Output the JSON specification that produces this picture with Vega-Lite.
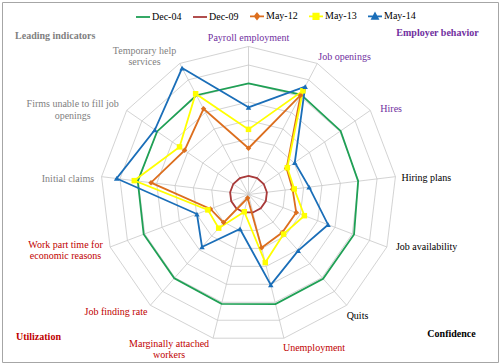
{
  "$schema": "https://vega.github.io/schema/vega-lite/v6.json",
  "width": 496,
  "height": 360,
  "padding": 2,
  "autosize": {"type": "none"},
  "background": "white",
  "config": {"view": {"stroke": "#A6A6A6", "strokeWidth": 1}, "text": {"font": "Liberation Serif"}},
  "datasets": {
    "axes": [
      {"i": 0, "indicator": "Payroll employment", "label": "Payroll employment", "group": "Employer behavior", "levels": [1, 2, 3, 4, 5, 6, 7, 8]},
      {"i": 1, "indicator": "Job openings", "label": "Job openings", "group": "Employer behavior", "levels": [1, 2, 3, 4, 5, 6, 7, 8]},
      {"i": 2, "indicator": "Hires", "label": "Hires", "group": "Employer behavior", "levels": [1, 2, 3, 4, 5, 6, 7, 8]},
      {"i": 3, "indicator": "Hiring plans", "label": "Hiring plans", "group": "Confidence", "levels": [1, 2, 3, 4, 5, 6, 7, 8]},
      {"i": 4, "indicator": "Job availability", "label": "Job availability", "group": "Confidence", "levels": [1, 2, 3, 4, 5, 6, 7, 8]},
      {"i": 5, "indicator": "Quits", "label": "Quits", "group": "Confidence", "levels": [1, 2, 3, 4, 5, 6, 7, 8]},
      {"i": 6, "indicator": "Unemployment", "label": "Unemployment", "group": "Utilization", "levels": [1, 2, 3, 4, 5, 6, 7, 8]},
      {"i": 7, "indicator": "Marginally attached workers", "label": "Marginally attached\nworkers", "group": "Utilization", "levels": [1, 2, 3, 4, 5, 6, 7, 8]},
      {"i": 8, "indicator": "Job finding rate", "label": "Job finding rate", "group": "Utilization", "levels": [1, 2, 3, 4, 5, 6, 7, 8]},
      {"i": 9, "indicator": "Work part time for economic reasons", "label": "Work part time for\neconomic reasons", "group": "Utilization", "levels": [1, 2, 3, 4, 5, 6, 7, 8]},
      {"i": 10, "indicator": "Initial claims", "label": "Initial claims", "group": "Leading indicators", "levels": [1, 2, 3, 4, 5, 6, 7, 8]},
      {"i": 11, "indicator": "Firms unable to fill job openings", "label": "Firms unable to fill job\nopenings", "group": "Leading indicators", "levels": [1, 2, 3, 4, 5, 6, 7, 8]},
      {"i": 12, "indicator": "Temporary help services", "label": "Temporary help\nservices", "group": "Leading indicators", "levels": [1, 2, 3, 4, 5, 6, 7, 8]}
    ],
    "values": [
      {"series": "Dec-04", "indicator": "Payroll employment", "value": 6.0},
      {"series": "Dec-04", "indicator": "Job openings", "value": 6.1},
      {"series": "Dec-04", "indicator": "Hires", "value": 6.05},
      {"series": "Dec-04", "indicator": "Hiring plans", "value": 5.97},
      {"series": "Dec-04", "indicator": "Job availability", "value": 6.1},
      {"series": "Dec-04", "indicator": "Quits", "value": 6.08},
      {"series": "Dec-04", "indicator": "Unemployment", "value": 6.1},
      {"series": "Dec-04", "indicator": "Marginally attached workers", "value": 6.09},
      {"series": "Dec-04", "indicator": "Job finding rate", "value": 6.05},
      {"series": "Dec-04", "indicator": "Work part time for economic reasons", "value": 6.06},
      {"series": "Dec-04", "indicator": "Initial claims", "value": 6.03},
      {"series": "Dec-04", "indicator": "Firms unable to fill job openings", "value": 6.0},
      {"series": "Dec-04", "indicator": "Temporary help services", "value": 6.06},
      {"series": "Dec-09", "indicator": "Payroll employment", "value": 1},
      {"series": "Dec-09", "indicator": "Job openings", "value": 1},
      {"series": "Dec-09", "indicator": "Hires", "value": 1},
      {"series": "Dec-09", "indicator": "Hiring plans", "value": 1},
      {"series": "Dec-09", "indicator": "Job availability", "value": 1},
      {"series": "Dec-09", "indicator": "Quits", "value": 1},
      {"series": "Dec-09", "indicator": "Unemployment", "value": 1},
      {"series": "Dec-09", "indicator": "Marginally attached workers", "value": 1},
      {"series": "Dec-09", "indicator": "Job finding rate", "value": 1},
      {"series": "Dec-09", "indicator": "Work part time for economic reasons", "value": 1},
      {"series": "Dec-09", "indicator": "Initial claims", "value": 1},
      {"series": "Dec-09", "indicator": "Firms unable to fill job openings", "value": 1},
      {"series": "Dec-09", "indicator": "Temporary help services", "value": 1},
      {"series": "May-12", "indicator": "Payroll employment", "value": 2.5},
      {"series": "May-12", "indicator": "Job openings", "value": 6.06},
      {"series": "May-12", "indicator": "Hires", "value": 2.5},
      {"series": "May-12", "indicator": "Hiring plans", "value": 2.4},
      {"series": "May-12", "indicator": "Job availability", "value": 2.76},
      {"series": "May-12", "indicator": "Quits", "value": 2.75},
      {"series": "May-12", "indicator": "Unemployment", "value": 2.96},
      {"series": "May-12", "indicator": "Marginally attached workers", "value": 0.2},
      {"series": "May-12", "indicator": "Job finding rate", "value": 2.03},
      {"series": "May-12", "indicator": "Work part time for economic reasons", "value": 2.2},
      {"series": "May-12", "indicator": "Initial claims", "value": 5.31},
      {"series": "May-12", "indicator": "Firms unable to fill job openings", "value": 4.2},
      {"series": "May-12", "indicator": "Temporary help services", "value": 5.23},
      {"series": "May-13", "indicator": "Payroll employment", "value": 3.52},
      {"series": "May-13", "indicator": "Job openings", "value": 6.33},
      {"series": "May-13", "indicator": "Hires", "value": 2.55},
      {"series": "May-13", "indicator": "Hiring plans", "value": 2.49},
      {"series": "May-13", "indicator": "Job availability", "value": 3.23},
      {"series": "May-13", "indicator": "Quits", "value": 2.86},
      {"series": "May-13", "indicator": "Unemployment", "value": 3.79},
      {"series": "May-13", "indicator": "Marginally attached workers", "value": 0.96},
      {"series": "May-13", "indicator": "Job finding rate", "value": 2.43},
      {"series": "May-13", "indicator": "Work part time for economic reasons", "value": 2.35},
      {"series": "May-13", "indicator": "Initial claims", "value": 6.22},
      {"series": "May-13", "indicator": "Firms unable to fill job openings", "value": 4.53},
      {"series": "May-13", "indicator": "Temporary help services", "value": 6.15},
      {"series": "May-14", "indicator": "Payroll employment", "value": 4.71},
      {"series": "May-14", "indicator": "Job openings", "value": 6.59},
      {"series": "May-14", "indicator": "Hires", "value": 3.04},
      {"series": "May-14", "indicator": "Hiring plans", "value": 3.3},
      {"series": "May-14", "indicator": "Job availability", "value": 4.6},
      {"series": "May-14", "indicator": "Quits", "value": 4.05},
      {"series": "May-14", "indicator": "Unemployment", "value": 5.03},
      {"series": "May-14", "indicator": "Marginally attached workers", "value": 1.92},
      {"series": "May-14", "indicator": "Job finding rate", "value": 3.79},
      {"series": "May-14", "indicator": "Work part time for economic reasons", "value": 2.98},
      {"series": "May-14", "indicator": "Initial claims", "value": 7.18},
      {"series": "May-14", "indicator": "Firms unable to fill job openings", "value": 6.15},
      {"series": "May-14", "indicator": "Temporary help services", "value": 7.72}
    ],
    "groups": [
      {"group": "Leading indicators"},
      {"group": "Employer behavior"},
      {"group": "Utilization"},
      {"group": "Confidence"}
    ]
  },
  "layer": [
    {
      "data": {"name": "axes"},
      "transform": [
        {"flatten": ["levels"], "as": ["ring"]},
        {"calculate": "datum.i*2*PI/13", "as": "theta"},
        {"calculate": "datum.ring*sin(datum.theta)", "as": "px"},
        {"calculate": "datum.ring*cos(datum.theta)", "as": "py"}
      ],
      "mark": {"type": "line", "interpolate": "linear-closed", "stroke": "#C8C8C8", "strokeWidth": 0.8},
      "encoding": {
        "x": {"field": "px", "type": "quantitative", "scale": {"domain": [-13.324, 13.486], "nice": false, "zero": false}, "axis": null},
        "y": {"field": "py", "type": "quantitative", "scale": {"domain": [-9.054, 10.405], "nice": false, "zero": false}, "axis": null},
        "detail": {"field": "ring", "type": "ordinal"},
        "order": {"field": "i", "type": "quantitative"}
      }
    },
    {
      "data": {"name": "axes"},
      "transform": [
        {"calculate": "datum.i*2*PI/13", "as": "theta"},
        {"calculate": "peek(datum.levels)*sin(datum.theta)", "as": "px"},
        {"calculate": "peek(datum.levels)*cos(datum.theta)", "as": "py"}
      ],
      "mark": {"type": "rule", "stroke": "#C8C8C8", "strokeWidth": 0.8},
      "encoding": {
        "x": {"field": "px", "type": "quantitative", "scale": {"domain": [-13.324, 13.486], "nice": false, "zero": false}, "axis": null},
        "y": {"field": "py", "type": "quantitative", "scale": {"domain": [-9.054, 10.405], "nice": false, "zero": false}, "axis": null},
        "x2": {"datum": 0},
        "y2": {"datum": 0}
      }
    },
    {
      "data": {"name": "values"},
      "transform": [
        {"lookup": "indicator", "from": {"data": {"name": "axes"}, "key": "indicator", "fields": ["i"]}},
        {"calculate": "datum.i*2*PI/13", "as": "theta"},
        {"calculate": "datum.value*sin(datum.theta)", "as": "px"},
        {"calculate": "datum.value*cos(datum.theta)", "as": "py"}
      ],
      "mark": {"type": "line", "interpolate": "linear-closed", "strokeWidth": 1.8},
      "encoding": {
        "x": {"field": "px", "type": "quantitative", "scale": {"domain": [-13.324, 13.486], "nice": false, "zero": false}, "axis": null},
        "y": {"field": "py", "type": "quantitative", "scale": {"domain": [-9.054, 10.405], "nice": false, "zero": false}, "axis": null},
        "order": {"field": "i", "type": "quantitative"},
        "color": {
          "field": "series",
          "type": "nominal",
          "scale": {"domain": ["Dec-04", "Dec-09", "May-12", "May-13", "May-14"], "range": ["#1FA055", "#A93A3A", "#DC6E1E", "#FFFF00", "#1A6EB8"]},
          "legend": {
            "orient": "none",
            "legendX": 133,
            "legendY": 6,
            "direction": "horizontal",
            "columns": 5,
            "title": null,
            "padding": 0,
            "symbolSize": 196,
            "symbolStrokeWidth": 1.8,
            "labelFont": "Liberation Serif",
            "labelFontSize": 10,
            "labelColor": "#000000",
            "labelOffset": 1,
            "columnPadding": 7,
            "encode": {
              "symbols": {
                "update": {
                  "shape": {"signal": "datum.value == 'May-12' ? 'M-1,0L1,0M0,-0.4L0.32,0L0,0.4L-0.32,0Z' : datum.value == 'May-13' ? 'M-1,0L1,0M-0.38,-0.38L0.38,-0.38L0.38,0.38L-0.38,0.38Z' : datum.value == 'May-14' ? 'M-1,0L1,0M-0.42,0.36L0,-0.42L0.42,0.36Z' : 'M-1,0L1,0'"},
                  "fill": {"signal": "scale('color', datum.value)"},
                  "stroke": {"signal": "scale('color', datum.value)"},
                  "opacity": {"value": 1}
                }
              }
            }
          }
        }
      }
    },
    {
      "data": {"name": "values"},
      "transform": [
        {"filter": "datum.series == 'May-12' || datum.series == 'May-13' || datum.series == 'May-14'"},
        {"lookup": "indicator", "from": {"data": {"name": "axes"}, "key": "indicator", "fields": ["i"]}},
        {"calculate": "datum.i*2*PI/13", "as": "theta"},
        {"calculate": "datum.value*sin(datum.theta)", "as": "px"},
        {"calculate": "datum.value*cos(datum.theta)", "as": "py"}
      ],
      "mark": {"type": "point", "filled": true, "opacity": 1, "size": 30},
      "encoding": {
        "x": {"field": "px", "type": "quantitative", "scale": {"domain": [-13.324, 13.486], "nice": false, "zero": false}, "axis": null},
        "y": {"field": "py", "type": "quantitative", "scale": {"domain": [-9.054, 10.405], "nice": false, "zero": false}, "axis": null},
        "color": {"field": "series", "type": "nominal", "scale": {"domain": ["Dec-04", "Dec-09", "May-12", "May-13", "May-14"], "range": ["#1FA055", "#A93A3A", "#DC6E1E", "#FFFF00", "#1A6EB8"]}},
        "shape": {"field": "series", "type": "nominal", "scale": {"domain": ["May-12", "May-13", "May-14"], "range": ["diamond", "square", "triangle-up"]}, "legend": null}
      }
    },
    {"data": {"name": "axes"}, "transform": [{"filter": "datum.i == 0"}, {"calculate": "datum.i*2*PI/13", "as": "theta"}, {"calculate": "peek(datum.levels)*sin(datum.theta)", "as": "px"}, {"calculate": "peek(datum.levels)*cos(datum.theta)", "as": "py"}],
     "mark": {"type": "text", "align": "center", "baseline": "middle", "dx": 0, "dy": -8.5, "fontSize": 10, "font": "Liberation Serif", "lineBreak": "\n", "lineHeight": 11.5},
     "encoding": {"x": {"field": "px", "type": "quantitative", "scale": {"domain": [-13.324, 13.486], "nice": false, "zero": false}, "axis": null}, "y": {"field": "py", "type": "quantitative", "scale": {"domain": [-9.054, 10.405], "nice": false, "zero": false}, "axis": null}, "text": {"field": "label", "type": "nominal"}, "fill": {"field": "group", "type": "nominal", "scale": {"domain": ["Employer behavior", "Confidence", "Utilization", "Leading indicators"], "range": ["#7030A0", "#000000", "#C00000", "#7F7F7F"]}, "legend": null}}},
    {"data": {"name": "axes"}, "transform": [{"filter": "datum.i == 1"}, {"calculate": "datum.i*2*PI/13", "as": "theta"}, {"calculate": "peek(datum.levels)*sin(datum.theta)", "as": "px"}, {"calculate": "peek(datum.levels)*cos(datum.theta)", "as": "py"}],
     "mark": {"type": "text", "align": "left", "baseline": "middle", "dx": 1, "dy": -6.5, "fontSize": 10, "font": "Liberation Serif", "lineBreak": "\n", "lineHeight": 11.5},
     "encoding": {"x": {"field": "px", "type": "quantitative", "scale": {"domain": [-13.324, 13.486], "nice": false, "zero": false}, "axis": null}, "y": {"field": "py", "type": "quantitative", "scale": {"domain": [-9.054, 10.405], "nice": false, "zero": false}, "axis": null}, "text": {"field": "label", "type": "nominal"}, "fill": {"field": "group", "type": "nominal", "scale": {"domain": ["Employer behavior", "Confidence", "Utilization", "Leading indicators"], "range": ["#7030A0", "#000000", "#C00000", "#7F7F7F"]}, "legend": null}}},
    {"data": {"name": "axes"}, "transform": [{"filter": "datum.i == 2"}, {"calculate": "datum.i*2*PI/13", "as": "theta"}, {"calculate": "peek(datum.levels)*sin(datum.theta)", "as": "px"}, {"calculate": "peek(datum.levels)*cos(datum.theta)", "as": "py"}],
     "mark": {"type": "text", "align": "left", "baseline": "middle", "dx": 10, "dy": -1.5, "fontSize": 10, "font": "Liberation Serif", "lineBreak": "\n", "lineHeight": 11.5},
     "encoding": {"x": {"field": "px", "type": "quantitative", "scale": {"domain": [-13.324, 13.486], "nice": false, "zero": false}, "axis": null}, "y": {"field": "py", "type": "quantitative", "scale": {"domain": [-9.054, 10.405], "nice": false, "zero": false}, "axis": null}, "text": {"field": "label", "type": "nominal"}, "fill": {"field": "group", "type": "nominal", "scale": {"domain": ["Employer behavior", "Confidence", "Utilization", "Leading indicators"], "range": ["#7030A0", "#000000", "#C00000", "#7F7F7F"]}, "legend": null}}},
    {"data": {"name": "axes"}, "transform": [{"filter": "datum.i == 3"}, {"calculate": "datum.i*2*PI/13", "as": "theta"}, {"calculate": "peek(datum.levels)*sin(datum.theta)", "as": "px"}, {"calculate": "peek(datum.levels)*cos(datum.theta)", "as": "py"}],
     "mark": {"type": "text", "align": "left", "baseline": "middle", "dx": 6, "dy": 1.5, "fontSize": 10, "font": "Liberation Serif", "lineBreak": "\n", "lineHeight": 11.5},
     "encoding": {"x": {"field": "px", "type": "quantitative", "scale": {"domain": [-13.324, 13.486], "nice": false, "zero": false}, "axis": null}, "y": {"field": "py", "type": "quantitative", "scale": {"domain": [-9.054, 10.405], "nice": false, "zero": false}, "axis": null}, "text": {"field": "label", "type": "nominal"}, "fill": {"field": "group", "type": "nominal", "scale": {"domain": ["Employer behavior", "Confidence", "Utilization", "Leading indicators"], "range": ["#7030A0", "#000000", "#C00000", "#7F7F7F"]}, "legend": null}}},
    {"data": {"name": "axes"}, "transform": [{"filter": "datum.i == 4"}, {"calculate": "datum.i*2*PI/13", "as": "theta"}, {"calculate": "peek(datum.levels)*sin(datum.theta)", "as": "px"}, {"calculate": "peek(datum.levels)*cos(datum.theta)", "as": "py"}],
     "mark": {"type": "text", "align": "left", "baseline": "middle", "dx": 9, "dy": 0, "fontSize": 10, "font": "Liberation Serif", "lineBreak": "\n", "lineHeight": 11.5},
     "encoding": {"x": {"field": "px", "type": "quantitative", "scale": {"domain": [-13.324, 13.486], "nice": false, "zero": false}, "axis": null}, "y": {"field": "py", "type": "quantitative", "scale": {"domain": [-9.054, 10.405], "nice": false, "zero": false}, "axis": null}, "text": {"field": "label", "type": "nominal"}, "fill": {"field": "group", "type": "nominal", "scale": {"domain": ["Employer behavior", "Confidence", "Utilization", "Leading indicators"], "range": ["#7030A0", "#000000", "#C00000", "#7F7F7F"]}, "legend": null}}},
    {"data": {"name": "axes"}, "transform": [{"filter": "datum.i == 5"}, {"calculate": "datum.i*2*PI/13", "as": "theta"}, {"calculate": "peek(datum.levels)*sin(datum.theta)", "as": "px"}, {"calculate": "peek(datum.levels)*cos(datum.theta)", "as": "py"}],
     "mark": {"type": "text", "align": "left", "baseline": "middle", "dx": 0, "dy": 10.5, "fontSize": 10, "font": "Liberation Serif", "lineBreak": "\n", "lineHeight": 11.5},
     "encoding": {"x": {"field": "px", "type": "quantitative", "scale": {"domain": [-13.324, 13.486], "nice": false, "zero": false}, "axis": null}, "y": {"field": "py", "type": "quantitative", "scale": {"domain": [-9.054, 10.405], "nice": false, "zero": false}, "axis": null}, "text": {"field": "label", "type": "nominal"}, "fill": {"field": "group", "type": "nominal", "scale": {"domain": ["Employer behavior", "Confidence", "Utilization", "Leading indicators"], "range": ["#7030A0", "#000000", "#C00000", "#7F7F7F"]}, "legend": null}}},
    {"data": {"name": "axes"}, "transform": [{"filter": "datum.i == 6"}, {"calculate": "datum.i*2*PI/13", "as": "theta"}, {"calculate": "peek(datum.levels)*sin(datum.theta)", "as": "px"}, {"calculate": "peek(datum.levels)*cos(datum.theta)", "as": "py"}],
     "mark": {"type": "text", "align": "left", "baseline": "middle", "dx": -1, "dy": 10, "fontSize": 10, "font": "Liberation Serif", "lineBreak": "\n", "lineHeight": 11.5},
     "encoding": {"x": {"field": "px", "type": "quantitative", "scale": {"domain": [-13.324, 13.486], "nice": false, "zero": false}, "axis": null}, "y": {"field": "py", "type": "quantitative", "scale": {"domain": [-9.054, 10.405], "nice": false, "zero": false}, "axis": null}, "text": {"field": "label", "type": "nominal"}, "fill": {"field": "group", "type": "nominal", "scale": {"domain": ["Employer behavior", "Confidence", "Utilization", "Leading indicators"], "range": ["#7030A0", "#000000", "#C00000", "#7F7F7F"]}, "legend": null}}},
    {"data": {"name": "axes"}, "transform": [{"filter": "datum.i == 7"}, {"calculate": "datum.i*2*PI/13", "as": "theta"}, {"calculate": "peek(datum.levels)*sin(datum.theta)", "as": "px"}, {"calculate": "peek(datum.levels)*cos(datum.theta)", "as": "py"}],
     "mark": {"type": "text", "align": "center", "baseline": "middle", "dx": -44, "dy": 5.8, "fontSize": 10, "font": "Liberation Serif", "lineBreak": "\n", "lineHeight": 11.5},
     "encoding": {"x": {"field": "px", "type": "quantitative", "scale": {"domain": [-13.324, 13.486], "nice": false, "zero": false}, "axis": null}, "y": {"field": "py", "type": "quantitative", "scale": {"domain": [-9.054, 10.405], "nice": false, "zero": false}, "axis": null}, "text": {"field": "label", "type": "nominal"}, "fill": {"field": "group", "type": "nominal", "scale": {"domain": ["Employer behavior", "Confidence", "Utilization", "Leading indicators"], "range": ["#7030A0", "#000000", "#C00000", "#7F7F7F"]}, "legend": null}}},
    {"data": {"name": "axes"}, "transform": [{"filter": "datum.i == 8"}, {"calculate": "datum.i*2*PI/13", "as": "theta"}, {"calculate": "peek(datum.levels)*sin(datum.theta)", "as": "px"}, {"calculate": "peek(datum.levels)*cos(datum.theta)", "as": "py"}],
     "mark": {"type": "text", "align": "right", "baseline": "middle", "dx": -3, "dy": 6.4, "fontSize": 10, "font": "Liberation Serif", "lineBreak": "\n", "lineHeight": 11.5},
     "encoding": {"x": {"field": "px", "type": "quantitative", "scale": {"domain": [-13.324, 13.486], "nice": false, "zero": false}, "axis": null}, "y": {"field": "py", "type": "quantitative", "scale": {"domain": [-9.054, 10.405], "nice": false, "zero": false}, "axis": null}, "text": {"field": "label", "type": "nominal"}, "fill": {"field": "group", "type": "nominal", "scale": {"domain": ["Employer behavior", "Confidence", "Utilization", "Leading indicators"], "range": ["#7030A0", "#000000", "#C00000", "#7F7F7F"]}, "legend": null}}},
    {"data": {"name": "axes"}, "transform": [{"filter": "datum.i == 9"}, {"calculate": "datum.i*2*PI/13", "as": "theta"}, {"calculate": "peek(datum.levels)*sin(datum.theta)", "as": "px"}, {"calculate": "peek(datum.levels)*cos(datum.theta)", "as": "py"}],
     "mark": {"type": "text", "align": "center", "baseline": "middle", "dx": -44.6, "dy": -2, "fontSize": 10, "font": "Liberation Serif", "lineBreak": "\n", "lineHeight": 11.5},
     "encoding": {"x": {"field": "px", "type": "quantitative", "scale": {"domain": [-13.324, 13.486], "nice": false, "zero": false}, "axis": null}, "y": {"field": "py", "type": "quantitative", "scale": {"domain": [-9.054, 10.405], "nice": false, "zero": false}, "axis": null}, "text": {"field": "label", "type": "nominal"}, "fill": {"field": "group", "type": "nominal", "scale": {"domain": ["Employer behavior", "Confidence", "Utilization", "Leading indicators"], "range": ["#7030A0", "#000000", "#C00000", "#7F7F7F"]}, "legend": null}}},
    {"data": {"name": "axes"}, "transform": [{"filter": "datum.i == 10"}, {"calculate": "datum.i*2*PI/13", "as": "theta"}, {"calculate": "peek(datum.levels)*sin(datum.theta)", "as": "px"}, {"calculate": "peek(datum.levels)*cos(datum.theta)", "as": "py"}],
     "mark": {"type": "text", "align": "right", "baseline": "middle", "dx": -7.3, "dy": 2.6, "fontSize": 10, "font": "Liberation Serif", "lineBreak": "\n", "lineHeight": 11.5},
     "encoding": {"x": {"field": "px", "type": "quantitative", "scale": {"domain": [-13.324, 13.486], "nice": false, "zero": false}, "axis": null}, "y": {"field": "py", "type": "quantitative", "scale": {"domain": [-9.054, 10.405], "nice": false, "zero": false}, "axis": null}, "text": {"field": "label", "type": "nominal"}, "fill": {"field": "group", "type": "nominal", "scale": {"domain": ["Employer behavior", "Confidence", "Utilization", "Leading indicators"], "range": ["#7030A0", "#000000", "#C00000", "#7F7F7F"]}, "legend": null}}},
    {"data": {"name": "axes"}, "transform": [{"filter": "datum.i == 11"}, {"calculate": "datum.i*2*PI/13", "as": "theta"}, {"calculate": "peek(datum.levels)*sin(datum.theta)", "as": "px"}, {"calculate": "peek(datum.levels)*cos(datum.theta)", "as": "py"}],
     "mark": {"type": "text", "align": "center", "baseline": "middle", "dx": -54, "dy": -6.4, "fontSize": 10, "font": "Liberation Serif", "lineBreak": "\n", "lineHeight": 11.5},
     "encoding": {"x": {"field": "px", "type": "quantitative", "scale": {"domain": [-13.324, 13.486], "nice": false, "zero": false}, "axis": null}, "y": {"field": "py", "type": "quantitative", "scale": {"domain": [-9.054, 10.405], "nice": false, "zero": false}, "axis": null}, "text": {"field": "label", "type": "nominal"}, "fill": {"field": "group", "type": "nominal", "scale": {"domain": ["Employer behavior", "Confidence", "Utilization", "Leading indicators"], "range": ["#7030A0", "#000000", "#C00000", "#7F7F7F"]}, "legend": null}}},
    {"data": {"name": "axes"}, "transform": [{"filter": "datum.i == 12"}, {"calculate": "datum.i*2*PI/13", "as": "theta"}, {"calculate": "peek(datum.levels)*sin(datum.theta)", "as": "px"}, {"calculate": "peek(datum.levels)*cos(datum.theta)", "as": "py"}],
     "mark": {"type": "text", "align": "center", "baseline": "middle", "dx": -35.2, "dy": -12.8, "fontSize": 10, "font": "Liberation Serif", "lineBreak": "\n", "lineHeight": 11.5},
     "encoding": {"x": {"field": "px", "type": "quantitative", "scale": {"domain": [-13.324, 13.486], "nice": false, "zero": false}, "axis": null}, "y": {"field": "py", "type": "quantitative", "scale": {"domain": [-9.054, 10.405], "nice": false, "zero": false}, "axis": null}, "text": {"field": "label", "type": "nominal"}, "fill": {"field": "group", "type": "nominal", "scale": {"domain": ["Employer behavior", "Confidence", "Utilization", "Leading indicators"], "range": ["#7030A0", "#000000", "#C00000", "#7F7F7F"]}, "legend": null}}},
    {"data": {"name": "groups"}, "transform": [{"filter": "datum.group == 'Leading indicators'"}],
     "mark": {"type": "text", "align": "left", "baseline": "middle", "fontSize": 10, "fontWeight": "bold", "font": "Liberation Serif"},
     "encoding": {"x": {"datum": -12.62, "type": "quantitative", "scale": {"domain": [-13.324, 13.486], "nice": false, "zero": false}, "axis": null}, "y": {"datum": 8.58, "type": "quantitative", "scale": {"domain": [-9.054, 10.405], "nice": false, "zero": false}, "axis": null}, "text": {"field": "group", "type": "nominal"}, "fill": {"field": "group", "type": "nominal", "scale": {"domain": ["Employer behavior", "Confidence", "Utilization", "Leading indicators"], "range": ["#7030A0", "#000000", "#C00000", "#7F7F7F"]}, "legend": null}}},
    {"data": {"name": "groups"}, "transform": [{"filter": "datum.group == 'Employer behavior'"}],
     "mark": {"type": "text", "align": "right", "baseline": "middle", "fontSize": 10, "fontWeight": "bold", "font": "Liberation Serif"},
     "encoding": {"x": {"datum": 12.44, "type": "quantitative", "scale": {"domain": [-13.324, 13.486], "nice": false, "zero": false}, "axis": null}, "y": {"datum": 8.71, "type": "quantitative", "scale": {"domain": [-9.054, 10.405], "nice": false, "zero": false}, "axis": null}, "text": {"field": "group", "type": "nominal"}, "fill": {"field": "group", "type": "nominal", "scale": {"domain": ["Employer behavior", "Confidence", "Utilization", "Leading indicators"], "range": ["#7030A0", "#000000", "#C00000", "#7F7F7F"]}, "legend": null}}},
    {"data": {"name": "groups"}, "transform": [{"filter": "datum.group == 'Utilization'"}],
     "mark": {"type": "text", "align": "left", "baseline": "middle", "fontSize": 10, "fontWeight": "bold", "font": "Liberation Serif"},
     "encoding": {"x": {"datum": -12.57, "type": "quantitative", "scale": {"domain": [-13.324, 13.486], "nice": false, "zero": false}, "axis": null}, "y": {"datum": -7.69, "type": "quantitative", "scale": {"domain": [-9.054, 10.405], "nice": false, "zero": false}, "axis": null}, "text": {"field": "group", "type": "nominal"}, "fill": {"field": "group", "type": "nominal", "scale": {"domain": ["Employer behavior", "Confidence", "Utilization", "Leading indicators"], "range": ["#7030A0", "#000000", "#C00000", "#7F7F7F"]}, "legend": null}}},
    {"data": {"name": "groups"}, "transform": [{"filter": "datum.group == 'Confidence'"}],
     "mark": {"type": "text", "align": "right", "baseline": "middle", "fontSize": 10, "fontWeight": "bold", "font": "Liberation Serif"},
     "encoding": {"x": {"datum": 12.28, "type": "quantitative", "scale": {"domain": [-13.324, 13.486], "nice": false, "zero": false}, "axis": null}, "y": {"datum": -7.56, "type": "quantitative", "scale": {"domain": [-9.054, 10.405], "nice": false, "zero": false}, "axis": null}, "text": {"field": "group", "type": "nominal"}, "fill": {"field": "group", "type": "nominal", "scale": {"domain": ["Employer behavior", "Confidence", "Utilization", "Leading indicators"], "range": ["#7030A0", "#000000", "#C00000", "#7F7F7F"]}, "legend": null}}}
  ]
}
